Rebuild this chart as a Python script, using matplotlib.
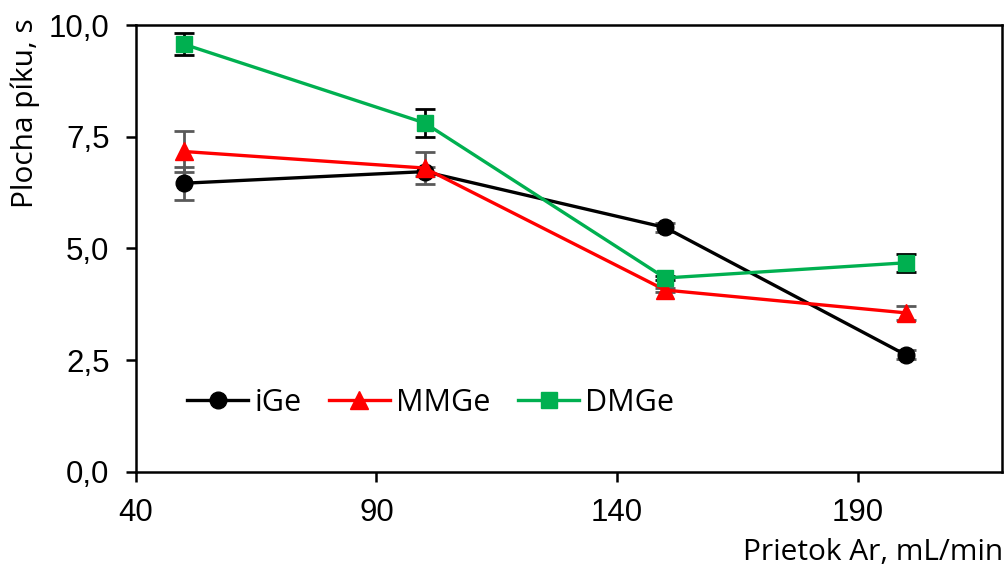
import numpy as np
import matplotlib.pyplot as plt

# prietok argonu, mL/min
flow = [50, 100, 150, 200]

# plocha piku, s
ige = [6.46, 6.72, 5.47, 2.62]
ige_err = [0.37, 0.10, 0.10, 0.10]

mmge = [7.17, 6.80, 4.07, 3.56]
mmge_err = [0.45, 0.35, 0.05, 0.15]

dmge = [9.57, 7.81, 4.34, 4.68]
dmge_err = [0.25, 0.32, 0.05, 0.20]

tick_font = ['Liberation Sans', 'DejaVu Sans']
text_font = ['Open Sans', 'DejaVu Sans']

fig = plt.figure(figsize=(10.06, 5.67), dpi=100)
ax = fig.add_axes([0.135, 0.1676, 0.861, 0.7883])

series = [
    ('iGe', ige, ige_err, 'black', 'o', 12, '#595959'),
    ('MMGe', mmge, mmge_err, '#ff0000', '^', 13, '#595959'),
    ('DMGe', dmge, dmge_err, '#00b050', 's', 11.5, 'black'),
]
for name, vals, err, col, mk, ms, ecol in series:
    ax.errorbar(flow, vals, yerr=err, fmt='none', ecolor=ecol,
                elinewidth=2, capsize=7, capthick=2, zorder=2)
    ax.plot(flow, vals, color=col, marker=mk, markersize=ms,
            linewidth=2.4, label=name, zorder=3)

ax.set_xlim(40, 220)
ax.set_ylim(0, 10)
ax.set_xticks([40, 90, 140, 190])
ax.set_yticks([0, 2.5, 5, 7.5, 10])
ax.set_yticklabels(['0,0', '2,5', '5,0', '7,5', '10,0'])

for s in ax.spines.values():
    s.set_linewidth(1.8)
ax.tick_params(direction='out', length=7, width=1.8, pad=12)
for lab in ax.get_xticklabels() + ax.get_yticklabels():
    lab.set_family(tick_font)
    lab.set_fontsize(22.5)

fig.text(25 / 1006, 1 - 18 / 567, 'Plocha píku, s', family=text_font,
         fontsize=21.5, rotation=90, ha='center', va='top')
fig.text(1003 / 1006, 1 - 560 / 567, 'Prietok Ar, mL/min', family=text_font,
         fontsize=21.5, ha='right', va='baseline')

ax.legend(loc='center left', bbox_to_anchor=(0.045, 0.155), ncol=3,
          frameon=False, handlelength=2.0, columnspacing=0.9,
          handletextpad=0.2, borderaxespad=0,
          prop={'family': text_font, 'size': 22})

fig.savefig('out.png', dpi=100)
